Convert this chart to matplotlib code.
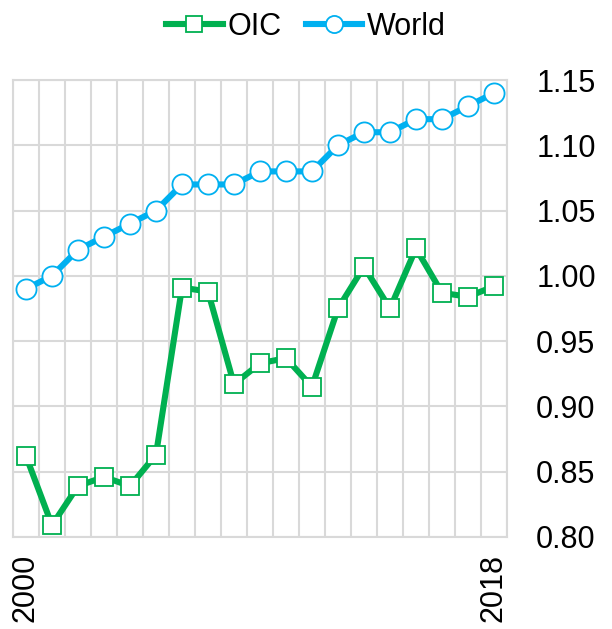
import numpy as np
import matplotlib.pyplot as plt

years = list(range(2000, 2019))
oic = [0.862, 0.809, 0.839, 0.846, 0.839, 0.863, 0.991, 0.988, 0.917, 0.933,
       0.937, 0.915, 0.975, 1.007, 0.975, 1.021, 0.987, 0.984, 0.992]
world = [0.99, 1.00, 1.02, 1.03, 1.04, 1.05, 1.07, 1.07, 1.07, 1.08,
         1.08, 1.08, 1.10, 1.11, 1.11, 1.12, 1.12, 1.13, 1.14]
y_ticks = [0.80, 0.85, 0.90, 0.95, 1.00, 1.05, 1.10, 1.15]
x_labels = [2000, 2018]

plt.rcParams['font.family'] = ['Liberation Sans', 'DejaVu Sans']

fig = plt.figure(figsize=(6.12, 6.29), dpi=100)
ax = fig.add_axes([0.0212, 0.1463, 0.8072, 0.7265])

green = '#00B050'
blue = '#00B0F0'
grid_c = '#D9D9D9'

ax.plot(years, oic, color=green, lw=4.4, marker='s', ms=13.5,
        mfc='white', mec=green, mew=1.3, label='OIC', zorder=3)
ax.plot(years, world, color=blue, lw=4.4, marker='o', ms=14.5,
        mfc='white', mec=blue, mew=1.3, label='World', zorder=3)

ax.set_xlim(years[0] - 0.5, years[-1] + 0.5)
ax.set_ylim(y_ticks[0], y_ticks[-1])

# category boundaries as vertical grid lines
ax.set_xticks(np.arange(years[0] - 0.5, years[-1] + 1), minor=True)
ax.set_xticks(x_labels)
ax.set_xticklabels([str(v) for v in x_labels], rotation=90, fontsize=22)
ax.grid(which='minor', axis='x', color=grid_c, lw=1.5)
ax.set_yticks(y_ticks)
ax.set_yticklabels([f'{v:.2f}' for v in y_ticks], fontsize=22)
ax.grid(which='major', axis='y', color=grid_c, lw=1.5)
ax.yaxis.tick_right()
ax.tick_params(axis='both', which='both', length=0)
ax.tick_params(axis='y', pad=21)
ax.tick_params(axis='x', pad=12)
for s in ax.spines.values():
    s.set_color(grid_c)
    s.set_linewidth(1.5)

fig.legend(loc='upper center', bbox_to_anchor=(0.5, 1.025), ncol=2,
           frameon=False, fontsize=22, handlelength=1.85, handletextpad=0.15,
           columnspacing=0.8, markerscale=0.85)

fig.savefig('out.png', dpi=100)
